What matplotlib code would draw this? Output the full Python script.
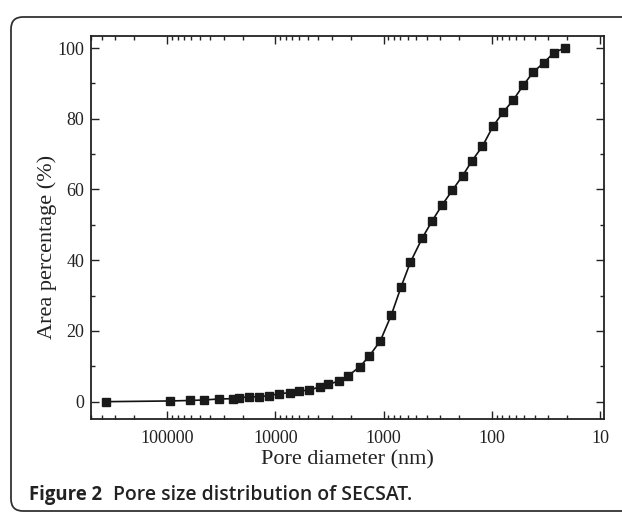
import matplotlib
matplotlib.use("Agg")
import matplotlib.pyplot as plt
from matplotlib.patches import FancyBboxPatch
from matplotlib.transforms import IdentityTransform
from matplotlib.ticker import LogLocator, FixedLocator, MultipleLocator, FixedFormatter

pore_diameter_nm = [366000, 93800, 61300, 45500, 33100, 24600, 21600, 17500, 14100, 11400,
                    9240, 7310, 6030, 4880, 3860, 3260, 2580, 2115, 1650, 1353,
                    1070, 847, 689, 565, 438, 354, 286, 231, 185.5, 153,
                    122, 96.8, 78.2, 63.2, 51.1, 41.3, 32.9, 26.6, 21.2]
area_percentage = [0.0, 0.2, 0.34, 0.48, 0.76, 0.85, 1.13, 1.33, 1.41, 1.7,
                   2.26, 2.54, 2.94, 3.31, 4.16, 4.86, 5.85, 7.35, 9.9, 12.9,
                   17.2, 24.5, 32.4, 39.4, 46.3, 51.2, 55.7, 59.8, 63.9, 68.0,
                   72.2, 78.0, 81.9, 85.3, 89.5, 93.2, 95.9, 98.7, 100.0]
x_ticks = [100000, 10000, 1000, 100, 10]
x_tick_labels = ["100000", "10000", "1000", "100", "10"]
y_ticks = [0, 20, 40, 60, 80, 100]

W, H = 622, 512
fig = plt.figure(figsize=(W / 100, H / 100), dpi=100)

# rounded frame
frame = FancyBboxPatch((11, 1), 640, 494, boxstyle="round,pad=0,rounding_size=12",
                       transform=IdentityTransform(), fill=False,
                       edgecolor="#333333", linewidth=1.3, clip_on=False)
fig.patches.append(frame)

ax = fig.add_axes([91 / W, 1 - 419 / H, (604 - 91) / W, (419 - 36) / H])
ax.set_xscale("log")
ax.plot(pore_diameter_nm, area_percentage, color="#111111", linewidth=1.2,
        marker="s", markersize=6, markerfacecolor="#1a1a1a", markeredgecolor="#1a1a1a")
ax.set_xlim(504000, 9.18)
ax.set_ylim(-4.9, 103.4)

serif = "Liberation Serif"
ax.xaxis.set_major_locator(FixedLocator(x_ticks))
ax.xaxis.set_major_formatter(FixedFormatter(x_tick_labels))
ax.xaxis.set_minor_locator(LogLocator(base=10, subs=range(2, 10), numticks=20))
ax.yaxis.set_major_locator(FixedLocator(y_ticks))
ax.yaxis.set_minor_locator(MultipleLocator(10))

ax.tick_params(which="both", direction="in", top=True, right=True, width=1.0,
               labelsize=13, colors="#222222")
ax.tick_params(which="major", length=6)
ax.tick_params(which="minor", length=3)
ax.tick_params(axis="x", pad=8)
ax.tick_params(axis="y", pad=5)
for lab in ax.get_xticklabels() + ax.get_yticklabels():
    lab.set_fontfamily(serif)
for s in ax.spines.values():
    s.set_linewidth(1.3)
    s.set_color("#222222")

ax.set_xlabel("Pore diameter (nm)", fontfamily=serif, fontsize=16, color="#222222", labelpad=2)
ax.set_ylabel("Area percentage (%)", fontfamily=serif, fontsize=16, color="#222222")
ax.yaxis.set_label_coords(-0.066, 0.45)

# caption, sized to the reference widths
renderer = fig.canvas.get_renderer()
def fit_text(x_px, text, target_w, weight):
    t = fig.text(x_px / W, 1 - 495 / H, text, fontfamily="Open Sans", fontweight=weight,
                 fontsize=12, color="#222222", va="center", ha="left")
    w = t.get_window_extent(renderer).width
    t.set_fontsize(12 * target_w / w)
    return t

fit_text(29, "Figure 2", 73, "bold")
fit_text(113, "Pore size distribution of SECSAT.", 298, "semibold")

fig.savefig("out.png", dpi=100)
